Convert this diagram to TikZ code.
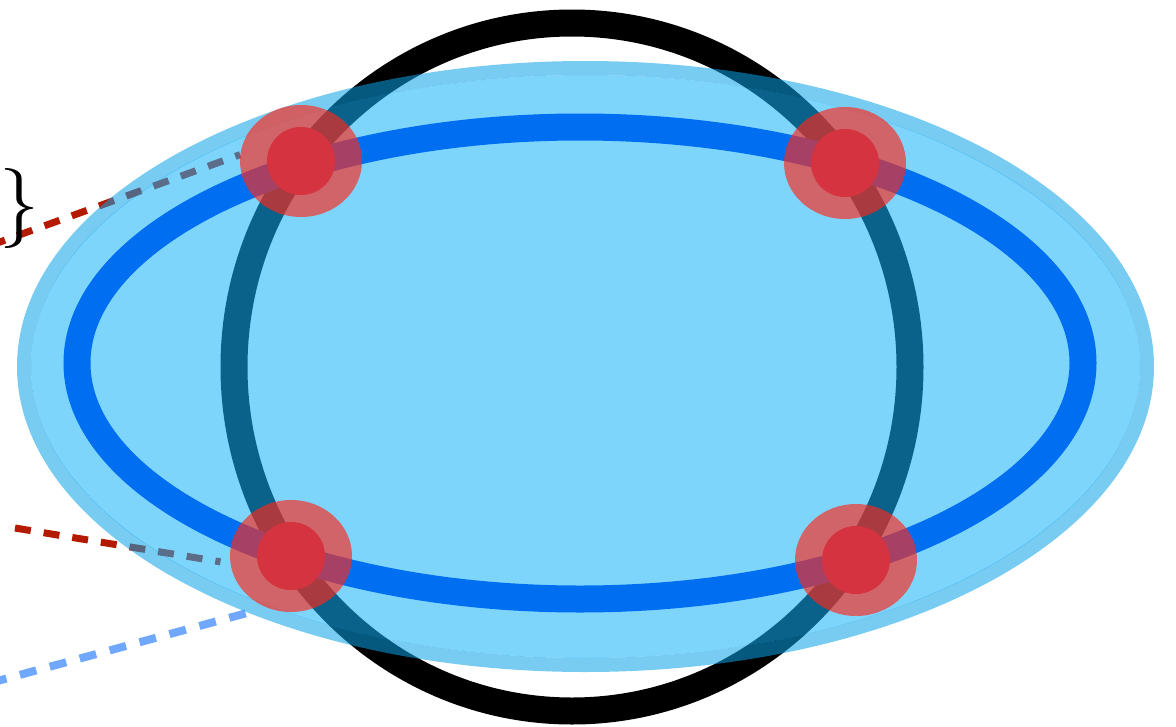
\documentclass[tikz,border=0pt]{standalone}
\usetikzlibrary{shapes.geometric, backgrounds}
\definecolor{rgBlack}{HTML}{000000}
\definecolor{rgSky}{HTML}{14B2FA}
\definecolor{rgSkyRim}{HTML}{0AA2E7}
\definecolor{rgBlue}{HTML}{006EF0}
\definecolor{rgRed}{HTML}{D5333F}
\definecolor{rgHalo}{HTML}{FF2819}
\definecolor{rgDashRed}{HTML}{B31A00}
\definecolor{rgDashBlue}{HTML}{70A8FF}
\tikzset{
  halo/.style={ellipse, fill=rgHalo, fill opacity=0.65, draw=none,
    minimum width=122pt, minimum height=112pt, inner sep=0pt},
  dot/.style={circle, fill=rgRed, draw=none, minimum size=68pt, inner sep=0pt},
  ring/.style={line width=27pt},
  dashr/.style={draw=rgDashRed, line width=7pt, dash pattern=on 16pt off 13pt},
  dashb/.style={draw=rgDashBlue, line width=8pt, dash pattern=on 17pt off 14pt},
}
\begin{document}
\begin{tikzpicture}[x=1pt, y=-1pt]
  \useasboundingbox (0,0) rectangle (1176,726);

  \node[halo] (hTL) at (301,161) {};
  \node[halo] (hTR) at (845,163) {};
  \node[halo] (hBL) at (291,556) {};
  \node[halo] (hBR) at (856,560) {};
  \node[dot] (dTL) at (hTL) {};
  \node[dot] (dTR) at (hTR) {};
  \node[dot] (dBL) at (hBL) {};
  \node[dot] (dBR) at (hBR) {};

  \node[inner sep=0pt] (brace) at (19,208) {\fontsize{80}{80}\selectfont\}};

  \coordinate (rtStart) at (-10,245.6);
  \coordinate (rbStart) at (15,528);
  \coordinate (bStart) at (-10,683);
  \coordinate (bEnd) at (247,613);

  \begin{scope}[on background layer]
    \draw[dashr] (rtStart) -- (hTL.174);
    \draw[dashr, shorten >=10pt] (rbStart) -- (hBL.187);
    \draw[dashb] (bStart) -- (bEnd);

    \draw[ring, draw=rgBlack] (572,367) ellipse [x radius=338pt, y radius=344pt];

    \fill[rgSky, fill opacity=0.55] (585.5,366.5) ellipse [x radius=554.5pt, y radius=291.5pt];
    \draw[rgSkyRim, draw opacity=0.55, line width=14pt] (585.5,366.5)
      ellipse [x radius=561.5pt, y radius=298.5pt];

    \draw[ring, draw=rgBlue] (580,363) ellipse [x radius=503pt, y radius=236pt];
  \end{scope}
\end{tikzpicture}
\end{document}
